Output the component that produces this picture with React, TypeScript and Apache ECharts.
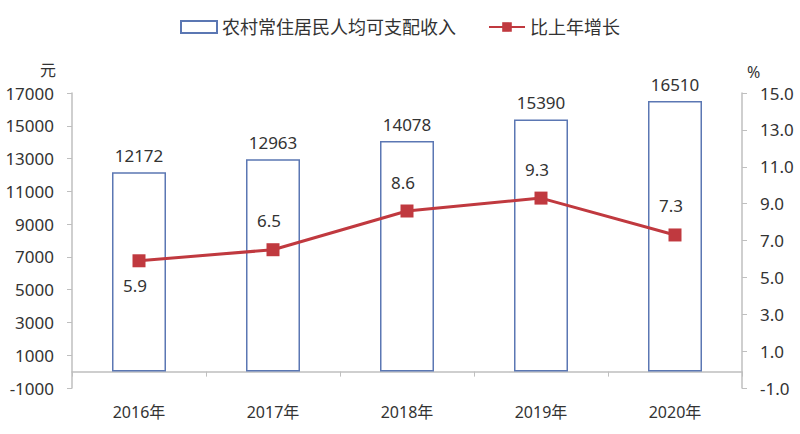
import React, { useEffect, useRef } from "react";
import * as echarts from "echarts";

const categories = ["2016年", "2017年", "2018年", "2019年", "2020年"];
const incomeValues = [12172, 12963, 14078, 15390, 16510];
const growthValues = [5.9, 6.5, 8.6, 9.3, 7.3];
const growthLabelPos = ["bottom", "top", "top", "top", "top"];
const incomeName = "农村常住居民人均可支配收入";
const growthName = "比上年增长";

const FONT = "'Noto Sans', 'Noto Sans CJK SC', sans-serif";

export default function App() {
  const ref = useRef<HTMLDivElement>(null);
  useEffect(() => {
    if (!ref.current) return;
    const chart = echarts.init(ref.current, null, { renderer: "svg" });
    chart.setOption({
      animation: false,
      backgroundColor: "#ffffff",
      textStyle: { fontFamily: FONT },
      legend: {
        top: 13,
        left: "center",
        itemGap: 32,
        itemWidth: 36,
        itemHeight: 12,
        textStyle: { fontSize: 18, color: "#333", fontFamily: FONT },
        data: [{ name: incomeName, icon: "rect" }, { name: growthName }],
      },
      grid: { left: 72, right: 58, top: 93, bottom: 46, containLabel: false },
      xAxis: {
        type: "category",
        data: categories,
        axisLine: { onZero: true, lineStyle: { color: "#bfbfbf", width: 1.5 } },
        axisTick: { show: true, alignWithLabel: false, length: 5, lineStyle: { color: "#bfbfbf" } },
        axisLabel: { fontSize: 16, color: "#333", margin: 16, fontFamily: FONT },
        splitLine: { show: false },
      },
      yAxis: [
        {
          type: "value",
          min: -1000,
          max: 17000,
          interval: 2000,
          axisLine: { show: true, onZero: false, lineStyle: { color: "#bfbfbf", width: 1.5 } },
          axisTick: { show: true, length: 5, lineStyle: { color: "#bfbfbf" } },
          axisLabel: {
            fontSize: 17,
            color: "#333",
            margin: 18,
            fontFamily: FONT,
            formatter: (v: number) => String(v),
          },
          splitLine: { show: false },
        },
        {
          type: "value",
          min: -1,
          max: 15,
          interval: 2,
          axisLine: { show: true, onZero: false, lineStyle: { color: "#bfbfbf", width: 1.5 } },
          axisTick: { show: true, length: 5, lineStyle: { color: "#bfbfbf" } },
          axisLabel: {
            fontSize: 17,
            color: "#333",
            margin: 18,
            fontFamily: FONT,
            formatter: (v: number) => v.toFixed(1),
          },
          splitLine: { show: false },
        },
      ],
      graphic: [
        { type: "text", left: 40, top: 62, style: { text: "元", fontSize: 16, fill: "#333", fontFamily: FONT } },
        { type: "text", left: 747, top: 64, style: { text: "%", fontSize: 16, fill: "#333", fontFamily: FONT } },
      ],
      series: [
        {
          name: incomeName,
          type: "bar",
          yAxisIndex: 0,
          barWidth: 54,
          data: incomeValues,
          itemStyle: { color: "#ffffff", borderColor: "#5b77b3", borderWidth: 1.5 },
          label: { show: true, position: "top", distance: 8, fontSize: 17, color: "#333", fontFamily: FONT },
        },
        {
          name: growthName,
          type: "line",
          yAxisIndex: 1,
          data: growthValues.map((v, i) => ({
            value: v,
            label: { position: growthLabelPos[i], distance: growthLabelPos[i] === "top" ? 14 : 10 },
          })),
          symbol: "rect",
          symbolSize: 13,
          lineStyle: { color: "#c0393f", width: 3 },
          itemStyle: { color: "#c0393f" },
          label: { show: true, fontSize: 17, color: "#333", fontFamily: FONT, offset: [-4, 0] },
        },
      ],
    });
    return () => chart.dispose();
  }, []);
  return <div ref={ref} style={{ width: 800, height: 434, position: "absolute", left: 0, top: 0 }} />;
}
